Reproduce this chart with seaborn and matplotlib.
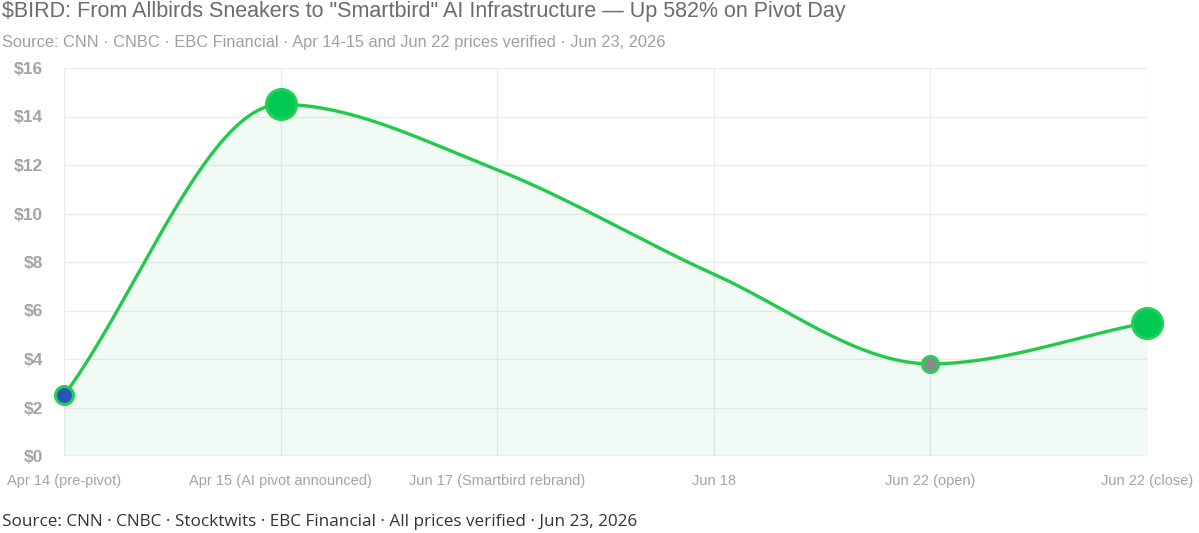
import numpy as np
import matplotlib
matplotlib.use("Agg")
import matplotlib.pyplot as plt
import seaborn as sns

# data
labels = ["Apr 14 (pre-pivot)", "Apr 15 (AI pivot announced)", "Jun 17 (Smartbird rebrand)",
          "Jun 18", "Jun 22 (open)", "Jun 22 (close)"]
prices = [2.5, 14.5, 11.8, 7.5, 3.8, 5.5]
marker_sizes = [9, 15, 0, 0, 8, 15]          # px radius, 0 = no marker
marker_fills = ["#2a55b8", "#00c853", None, None, "#8a8a8a", "#00c853"]
yticks = [0, 2, 4, 6, 8, 10, 12, 14, 16]

title = '$BIRD: From Allbirds Sneakers to "Smartbird" AI Infrastructure \u2014 Up 582% on Pivot Day'
subtitle = "Source: CNN \u00b7 CNBC \u00b7 EBC Financial \u00b7 Apr 14-15 and Jun 22 prices verified \u00b7 Jun 23, 2026"
footer = "Source: CNN \u00b7 CNBC \u00b7 Stocktwits \u00b7 EBC Financial \u00b7 All prices verified \u00b7 Jun 23, 2026"

LINE = "#22c94a"
GRID = "#ebebeb"
TICK = "#a3a3a3"

sns.set_theme(style="white")
plt.rcParams["font.family"] = ["Liberation Sans", "DejaVu Sans"]


def monotone(xs, ys, n=60):
    """monotone cubic (Fritsch-Carlson, like chart.js 'monotone')"""
    xs = np.asarray(xs, float)
    ys = np.asarray(ys, float)
    dx = np.diff(xs)
    dk = np.diff(ys) / dx
    m = np.zeros(len(xs))
    m[0], m[-1] = dk[0], dk[-1]
    for i in range(1, len(xs) - 1):
        m[i] = 0 if dk[i - 1] * dk[i] <= 0 else (dk[i - 1] + dk[i]) / 2
    for i in range(len(dk)):
        if abs(dk[i]) < 1e-9:
            m[i] = m[i + 1] = 0
            continue
        a, b = m[i] / dk[i], m[i + 1] / dk[i]
        tau = a * a + b * b
        if tau > 9:
            k = 3 / np.sqrt(tau)
            m[i], m[i + 1] = a * k * dk[i], b * k * dk[i]
    cx, cy = [], []
    t = np.linspace(0, 1, n)
    for i in range(len(dk)):
        h00 = 2 * t ** 3 - 3 * t ** 2 + 1
        h10 = t ** 3 - 2 * t ** 2 + t
        h01 = -2 * t ** 3 + 3 * t ** 2
        h11 = t ** 3 - t ** 2
        yy = h00 * ys[i] + h10 * dx[i] * m[i] + h01 * ys[i + 1] + h11 * dx[i] * m[i + 1]
        xx = xs[i] + t * dx[i]
        s = 0 if i == 0 else 1
        cx.extend(xx[s:])
        cy.extend(yy[s:])
    return np.array(cx), np.array(cy)


fig = plt.figure(figsize=(11.99, 5.33), dpi=100)
ax = fig.add_axes([64 / 1199, 1 - 456 / 533, (1147 - 64) / 1199, (456 - 68) / 533])

x = np.arange(len(labels))
ax.set_xlim(0, len(labels) - 1)
ax.set_ylim(0, 16)

cx, cy = monotone(x, prices)
ax.fill_between(cx, cy, 0, color="#00b050", alpha=0.05, lw=0, zorder=1)
sns.lineplot(x=cx, y=cy, ax=ax, color=LINE, lw=2.4, sort=False, estimator=None, zorder=3)

for xi, yi, r, fc in zip(x, prices, marker_sizes, marker_fills):
    if r:
        ax.plot(xi, yi, "o", ms=r * 2 * 0.72, mfc=fc, mec="#22d055", mew=2.2, zorder=4,
                clip_on=False)

ax.set_xticks(x)
ax.set_xticklabels(labels, fontsize=10.5, color=TICK)
ax.set_yticks(yticks)
ax.set_yticklabels([f"${v}" for v in yticks], fontsize=12.5, color=TICK, fontweight="bold")
ax.grid(True, color=GRID, lw=1)
ax.tick_params(axis="y", length=11, color=GRID, width=1, pad=4)
ax.tick_params(axis="x", length=8, color=GRID, width=1, pad=5)
for s in ax.spines.values():
    s.set_visible(False)
ax.axhline(0, color="#e3e3e3", lw=1, zorder=0)
ax.set_xlabel("")
ax.set_ylabel("")

fig.text(2 / 1199, 1 - 12 / 533, title, fontsize=15.5, color="#6b6b6b", va="center", ha="left")
fig.text(2 / 1199, 1 - 42 / 533, subtitle, fontsize=11.8, color="#a0a0a0", va="center", ha="left")
fig.text(2 / 1199, 1 - 522 / 533, footer, fontsize=12.3, color="#333333", va="center", ha="left",
         family=["Open Sans", "DejaVu Sans"])

fig.savefig("out.png", dpi=100)
